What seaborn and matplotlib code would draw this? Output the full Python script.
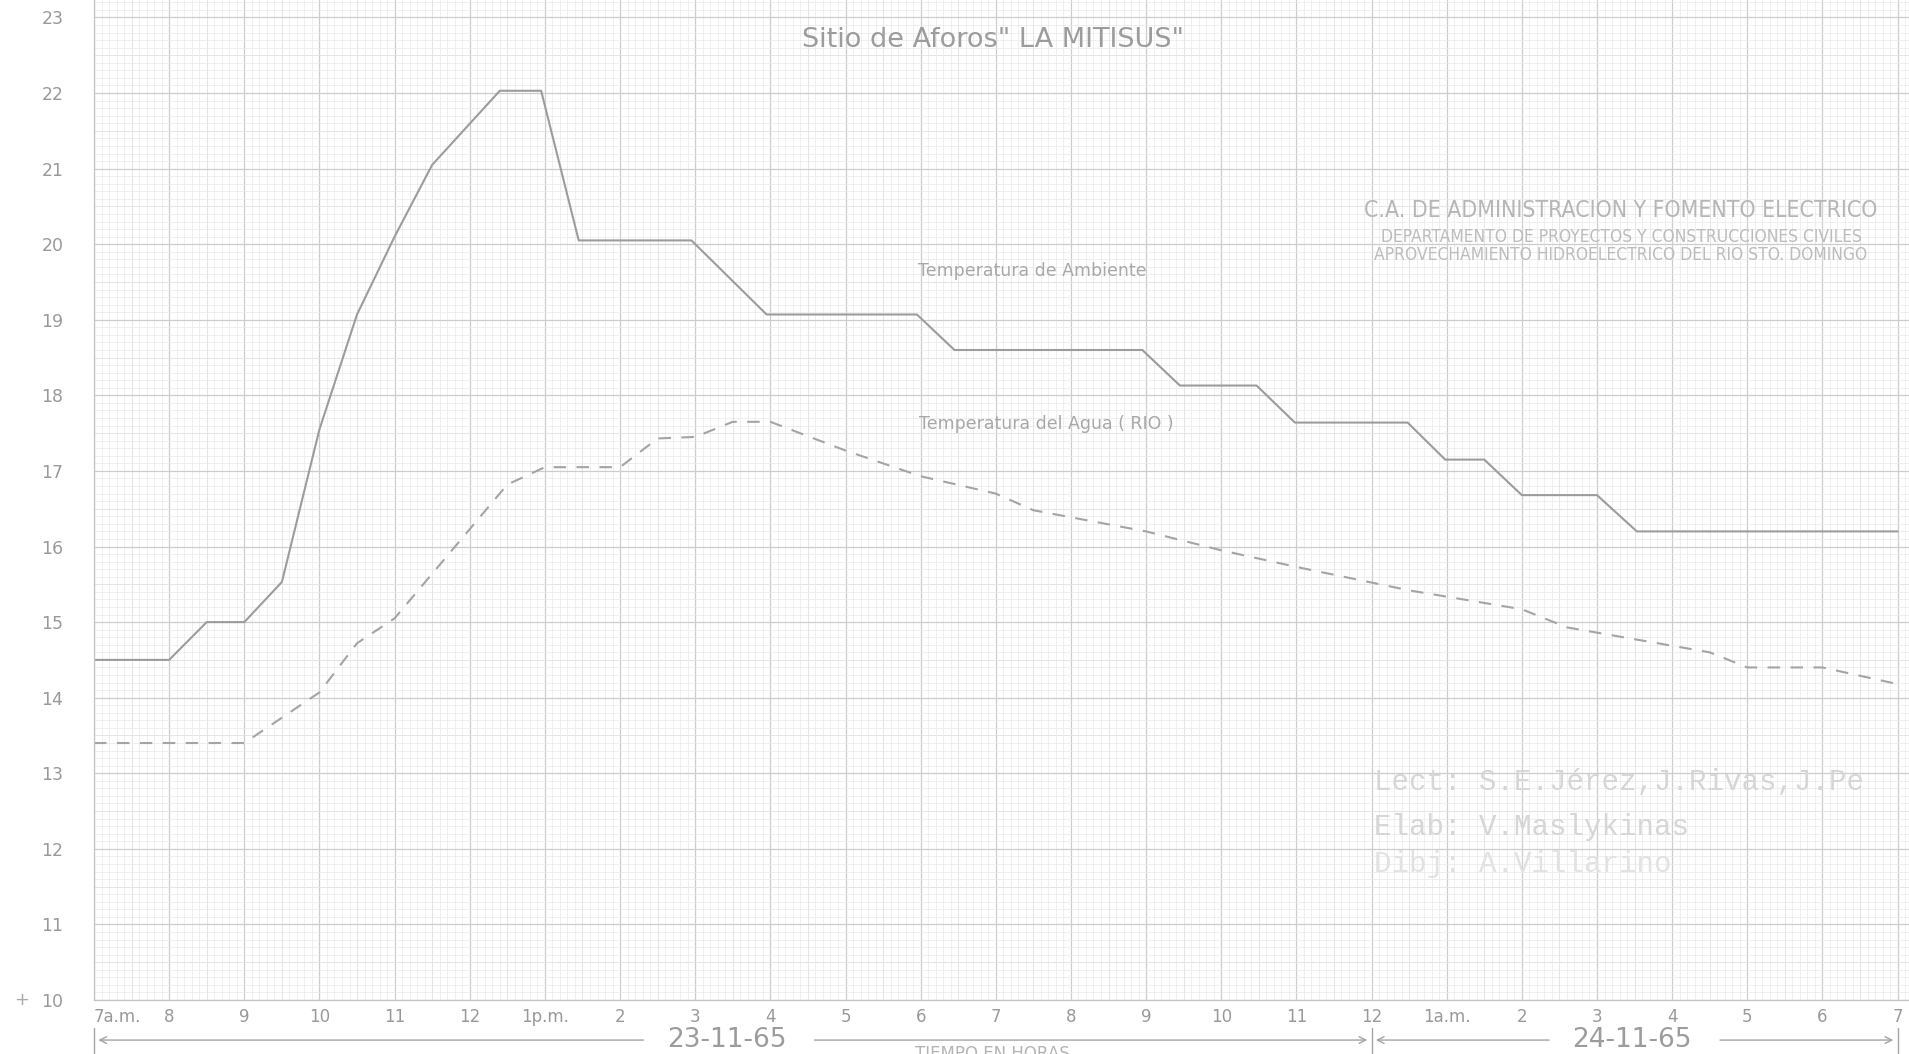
import matplotlib
matplotlib.use("Agg")
import matplotlib.pyplot as plt
import seaborn as sns
import pandas as pd
import numpy as np
from matplotlib import font_manager
from matplotlib.ticker import MultipleLocator

# hours counted from 7 a.m. of 23-11-65
hours_amb = [0, 1, 1.5, 2, 2.5, 3, 3.5, 4, 4.5, 5.4, 5.95, 6.45, 7.95, 8.95, 10.95, 11.45,
             13.95, 14.45, 15.47, 15.98, 17.48, 17.98, 18.5, 19.0, 20.0, 20.53, 24]
temp_amb = [14.5, 14.5, 15.0, 15.0, 15.53, 17.55, 19.07, 20.1, 21.05, 22.03, 22.03, 20.05,
            20.05, 19.07, 19.07, 18.6, 18.6, 18.13, 18.13, 17.64, 17.64, 17.15, 17.15, 16.68,
            16.68, 16.2, 16.2]

hours_agua = [0, 1, 2, 3, 3.5, 4, 5.5, 6, 7, 7.5, 8, 8.5, 9, 10, 11, 12, 12.5, 14, 15, 16,
              17.5, 19, 19.6, 21.5, 22, 23, 24]
temp_agua = [13.4, 13.4, 13.4, 14.07, 14.72, 15.05, 16.82, 17.05, 17.05, 17.43, 17.45, 17.65,
             17.65, 17.27, 16.93, 16.7, 16.48, 16.2, 15.95, 15.73, 15.42, 15.17, 14.93, 14.6,
             14.4, 14.4, 14.18]

hour_labels = ["7a.m.", "8", "9", "10", "11", "12", "1p.m.", "2", "3", "4", "5", "6", "7",
               "8", "9", "10", "11", "12", "1a.m.", "2", "3", "4", "5", "6", "7"]
temp_ticks = list(range(10, 24))

sns.set_theme(style="white")
plt.rcParams["font.family"] = ["DejaVu Sans"]

fonts = font_manager.fontManager.ttflist
names = {f.name for f in fonts}
has_condensed = any(f.name == "DejaVu Sans" and f.stretch == "condensed" for f in fonts)
if "Liberation Sans Narrow" in names:
    block = dict(family="Liberation Sans Narrow")
    sizes = (17, 13.5)
elif has_condensed:
    block = dict(family="DejaVu Sans", fontstretch="condensed")
    sizes = (16.5, 12.5)
else:
    block = dict(family="DejaVu Sans")
    sizes = (14.2, 11.2)
mono = "Liberation Mono" if "Liberation Mono" in names else "DejaVu Sans Mono"

ink = "#9c9c9c"
label_c = "#999999"

fig = plt.figure(figsize=(19.09, 10.54), dpi=100)
ax = fig.add_axes([94 / 1909, 54 / 1054, 1815 / 1909, 1000 / 1054])

# graph paper
ax.set_xlim(0, 1815 / 75.15)
ax.set_ylim(10, 10 + 1000 / 75.58)
ax.xaxis.set_minor_locator(MultipleLocator(0.1))
ax.yaxis.set_minor_locator(MultipleLocator(0.1))
ax.grid(which="minor", color="#e9e9e9", linewidth=0.5)
ax.grid(which="major", color="#cdcdcd", linewidth=0.9)
for h in np.arange(0.5, 24.5, 1):
    ax.axvline(h, color="#dcdcdc", linewidth=0.7, zorder=0.5)
for t in np.arange(10.5, 23.5, 1):
    ax.axhline(t, color="#dcdcdc", linewidth=0.7, zorder=0.5)
ax.set_axisbelow(True)
for side in ["top", "right"]:
    ax.spines[side].set_visible(False)
for side in ["left", "bottom"]:
    ax.spines[side].set_color("#c4c4c4")
    ax.spines[side].set_linewidth(0.9)

ambiente = pd.DataFrame({"hora": hours_amb, "temp": temp_amb})
agua = pd.DataFrame({"hora": hours_agua, "temp": temp_agua})
sns.lineplot(data=ambiente, x="hora", y="temp", color=ink, linewidth=1.5, ax=ax)
sns.lineplot(data=agua, x="hora", y="temp", color="#a4a4a4", linewidth=1.5,
             linestyle=(0, (6, 5)), ax=ax)

ax.set_xticks(range(25))
ax.set_xticklabels(hour_labels, fontsize=12, color=label_c)
ax.get_xticklabels()[0].set_ha("left")
ax.set_yticks(temp_ticks)
ax.set_yticklabels([str(t) for t in temp_ticks], fontsize=12.5, color=label_c)
ax.tick_params(which="both", length=0)
ax.tick_params(axis="y", pad=22)
ax.tick_params(axis="x", pad=6)
ax.set_xlabel("")
ax.set_ylabel("")
fig.text(22 / 1909, 1 - 1000 / 1054, "+", fontsize=13, color="#aaaaaa", ha="center", va="center")

# titles and notes
ax.text(11.96, 22.7, 'Sitio de Aforos" LA MITISUS"', fontsize=19.5, color=ink, ha="center", va="center")
ax.text(12.48, 19.64, "Temperatura de Ambiente", fontsize=12.5, color="#a8a8a8", ha="center", va="center")
ax.text(12.67, 17.62, "Temperatura del Agua ( RIO )", fontsize=12.5, color="#a8a8a8", ha="center", va="center")

ax.text(20.32, 20.44, "C.A. DE ADMINISTRACION Y FOMENTO ELECTRICO", fontsize=sizes[0],
        color="#b6b6b6", ha="center", va="center", **block)
ax.text(20.32, 20.09, "DEPARTAMENTO DE PROYECTOS Y CONSTRUCCIONES CIVILES",
        fontsize=sizes[1], color="#bcbcbc", ha="center", va="center", **block)
ax.text(20.32, 19.86, "APROVECHAMIENTO HIDROELECTRICO DEL RIO STO. DOMINGO",
        fontsize=sizes[1], color="#bcbcbc", ha="center", va="center", **block)

ax.text(17.03, 12.89, "Lect: S.E.Jérez,J.Rivas,J.Pe", family=mono, fontsize=21, color="#d6d6d6",
        ha="left", va="center")
ax.text(17.03, 12.29, "Elab: V.Maslykinas", family=mono, fontsize=21, color="#d6d6d6",
        ha="left", va="center")
ax.text(17.03, 11.80, "Dibj: A.Villarino", family=mono, fontsize=21, color="#e2e2e2",
        ha="left", va="center")

# date row under the hour axis
row = 9.47
arrow = dict(arrowstyle="->", color="#a4a4a4", lw=1.0, mutation_scale=12)
ax.text(8.42, row, "23-11-65", fontsize=19, color=ink, ha="center", va="center")
ax.text(20.47, row, "24-11-65", fontsize=19, color=ink, ha="center", va="center")
ax.annotate("", xy=(0.02, row), xytext=(7.35, row), arrowprops=arrow, annotation_clip=False)
ax.annotate("", xy=(16.98, row), xytext=(9.55, row), arrowprops=arrow, annotation_clip=False)
ax.annotate("", xy=(17.02, row), xytext=(19.4, row), arrowprops=arrow, annotation_clip=False)
ax.annotate("", xy=(23.98, row), xytext=(21.6, row), arrowprops=arrow, annotation_clip=False)
for h in [0, 17, 24]:
    ax.plot([h, h], [9.28, 9.63], color="#a4a4a4", linewidth=1.0, clip_on=False)
ax.text(11.95, 9.41, "TIEMPO EN HORAS", fontsize=12, color="#b4b4b4", ha="center", va="top",
        clip_on=False)

fig.savefig("out.png", dpi=100, facecolor="white")
